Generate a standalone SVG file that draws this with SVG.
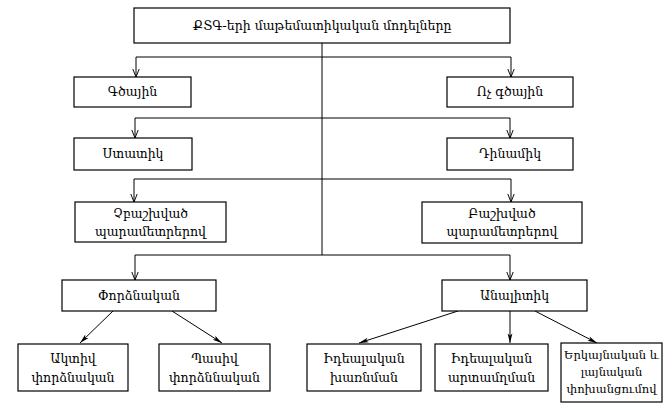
<svg xmlns="http://www.w3.org/2000/svg" width="672" height="410" viewBox="0 0 672 410">
<defs>
<marker id="arr" viewBox="0 0 10 10" refX="10" refY="5" markerWidth="8" markerHeight="8" markerUnits="userSpaceOnUse" orient="auto">
<path d="M0,1 L10,5 L0,9" fill="none" stroke="#000" stroke-width="1.2"/>
</marker>
<marker id="arrf" viewBox="0 0 12 10" refX="12" refY="5" markerWidth="12" markerHeight="8" markerUnits="userSpaceOnUse" orient="auto">
<path d="M0,2 L12,5 L0,8 L3,5 z" fill="#000"/>
</marker>
</defs>
<style>
rect{fill:#fff;stroke:#000;stroke-width:1.2}
text{font-family:"DejaVu Serif","Noto Serif",serif;font-size:12.5px;fill:#000;text-anchor:middle}
.s{font-size:11.5px}
.c line,.c path{stroke:#000;stroke-width:1;fill:none}
</style>
<rect x="0" y="0" width="672" height="410" style="stroke:none"/>
<g class="c" id="connectors">
<line x1="322" y1="43" x2="322" y2="255"/>
<line x1="136" y1="57" x2="511" y2="57"/>
<line x1="136" y1="57" x2="136" y2="77" marker-end="url(#arr)"/>
<line x1="511" y1="57" x2="511" y2="77" marker-end="url(#arr)"/>
<line x1="135" y1="118" x2="510" y2="118"/>
<line x1="135" y1="118" x2="135" y2="138" marker-end="url(#arr)"/>
<line x1="510" y1="118" x2="510" y2="138" marker-end="url(#arr)"/>
<line x1="134" y1="179" x2="511" y2="179"/>
<line x1="134" y1="179" x2="134" y2="202" marker-end="url(#arr)"/>
<line x1="511" y1="179" x2="511" y2="202" marker-end="url(#arr)"/>
<line x1="135" y1="255" x2="510" y2="255"/>
<line x1="135" y1="255" x2="135" y2="280" marker-end="url(#arr)"/>
<line x1="510" y1="255" x2="510" y2="280" marker-end="url(#arr)"/>
<line x1="113" y1="311" x2="80" y2="343" marker-end="url(#arrf)"/>
<line x1="172" y1="311" x2="222" y2="343" marker-end="url(#arrf)"/>
<line x1="458" y1="311" x2="359" y2="343" marker-end="url(#arrf)"/>
<line x1="510" y1="311" x2="510" y2="343" marker-end="url(#arrf)"/>
<line x1="535" y1="311" x2="597" y2="343" marker-end="url(#arrf)"/>
</g>
<g id="root"><rect x="134" y="8" width="376" height="35"/><text x="322" y="30">ՔՏԳ-երի մաթեմատիկական մոդելները</text></g>
<g id="linear"><rect x="74" y="77" width="117" height="30"/><text x="132.5" y="96">Գծային</text></g>
<g id="nonlinear"><rect x="447" y="77" width="126" height="30"/><text x="510" y="96">Ոչ գծային</text></g>
<g id="static"><rect x="74" y="138" width="118" height="32"/><text x="133" y="158">Ստատիկ</text></g>
<g id="dynamic"><rect x="447" y="138" width="126" height="32"/><text x="510" y="158">Դինամիկ</text></g>
<g id="lumped"><rect x="75" y="202" width="151" height="40"/><text x="150.5" y="218">Չբաշխված</text><text x="150.5" y="236">պարամետրերով</text></g>
<g id="distributed"><rect x="422" y="202" width="160" height="41"/><text x="502" y="218">Բաշխված</text><text x="502" y="236">պարամետրերով</text></g>
<g id="experimental"><rect x="62" y="280" width="154" height="31"/><text x="139" y="300">Փորձնական</text></g>
<g id="analytic"><rect x="442" y="280" width="145" height="31"/><text x="514.5" y="300">Անալիտիկ</text></g>
<g id="active"><rect x="18" y="344" width="110" height="47"/><text x="73" y="363">Ակտիվ</text><text x="73" y="382">փորձնական</text></g>
<g id="passive"><rect x="159" y="344" width="111" height="47"/><text x="214.5" y="363">Պասիվ</text><text x="214.5" y="382">փորձննական</text></g>
<g id="mixing"><rect x="307" y="344" width="114" height="47"/><text x="364" y="363">Իդեալական</text><text x="364" y="382">խառնման</text></g>
<g id="plug"><rect x="435" y="344" width="113" height="47"/><text x="491.5" y="363">Իդեալական</text><text x="491.5" y="382">արտամղման</text></g>
<g id="dispersion"><rect x="561" y="343" width="101" height="59"/><text class="s" x="611.5" y="359">Երկայնական և</text><text class="s" x="611.5" y="376">լայնական</text><text class="s" x="611.5" y="393">փոխանցումով</text></g>
</svg>
